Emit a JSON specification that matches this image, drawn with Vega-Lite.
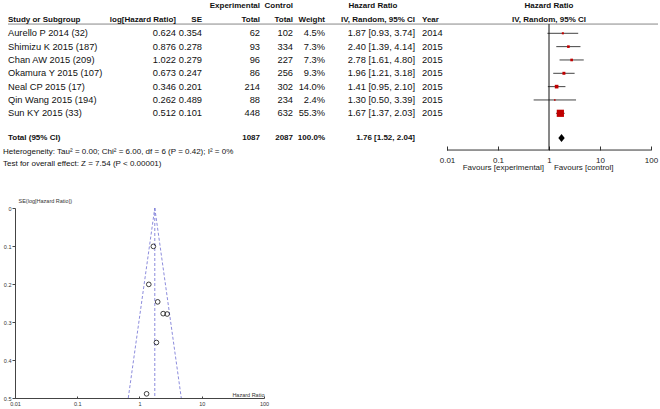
{
  "$schema": "https://vega.github.io/schema/vega-lite/v6.json",
  "padding": 0,
  "spacing": 25,
  "align": "none",
  "background": "white",
  "config": {
    "view": {"stroke": null},
    "axis": {"grid": false, "labelFont": "Liberation Sans", "titleFont": "Liberation Sans"},
    "text": {"font": "Liberation Sans", "color": "#111"}
  },
  "datasets": {
    "studies": [
      {"study": "Aurello P 2014 (32)", "row": 1, "loghr": 0.624, "se": 0.354, "exp": 62, "ctrl": 102, "weight": 4.5, "weightLabel": "4.5%", "hr": 1.87, "lo": 0.93, "hi": 3.74, "hrLabel": "1.87 [0.93, 3.74]", "year": "2014"},
      {"study": "Shimizu K 2015 (187)", "row": 2, "loghr": 0.876, "se": 0.278, "exp": 93, "ctrl": 334, "weight": 7.3, "weightLabel": "7.3%", "hr": 2.40, "lo": 1.39, "hi": 4.14, "hrLabel": "2.40 [1.39, 4.14]", "year": "2015"},
      {"study": "Chan AW 2015 (209)", "row": 3, "loghr": 1.022, "se": 0.279, "exp": 96, "ctrl": 227, "weight": 7.3, "weightLabel": "7.3%", "hr": 2.78, "lo": 1.61, "hi": 4.80, "hrLabel": "2.78 [1.61, 4.80]", "year": "2015"},
      {"study": "Okamura Y 2015 (107)", "row": 4, "loghr": 0.673, "se": 0.247, "exp": 86, "ctrl": 256, "weight": 9.3, "weightLabel": "9.3%", "hr": 1.96, "lo": 1.21, "hi": 3.18, "hrLabel": "1.96 [1.21, 3.18]", "year": "2015"},
      {"study": "Neal CP 2015 (17)", "row": 5, "loghr": 0.346, "se": 0.201, "exp": 214, "ctrl": 302, "weight": 14.0, "weightLabel": "14.0%", "hr": 1.41, "lo": 0.95, "hi": 2.10, "hrLabel": "1.41 [0.95, 2.10]", "year": "2015"},
      {"study": "Qin Wang 2015 (194)", "row": 6, "loghr": 0.262, "se": 0.489, "exp": 88, "ctrl": 234, "weight": 2.4, "weightLabel": "2.4%", "hr": 1.30, "lo": 0.50, "hi": 3.39, "hrLabel": "1.30 [0.50, 3.39]", "year": "2015"},
      {"study": "Sun KY 2015 (33)", "row": 7, "loghr": 0.512, "se": 0.101, "exp": 448, "ctrl": 632, "weight": 55.3, "weightLabel": "55.3%", "hr": 1.67, "lo": 1.37, "hi": 2.03, "hrLabel": "1.67 [1.37, 2.03]", "year": "2015"}
    ],
    "labels": [
      {"text": "Study or Subgroup", "row": 0, "col": 1, "style": "bl"},
      {"text": "Year", "row": 0, "col": 9, "style": "bl"},
      {"text": "Total (95% CI)", "row": 9, "col": 1, "style": "bl"},
      {"text": "log[Hazard Ratio]", "row": 0, "col": 2, "style": "br"},
      {"text": "SE", "row": 0, "col": 3, "style": "br"},
      {"text": "Experimental", "row": -1, "col": 4, "style": "br"},
      {"text": "Total", "row": 0, "col": 4, "style": "br"},
      {"text": "Control", "row": -1, "col": 5, "style": "br"},
      {"text": "Total", "row": 0, "col": 5, "style": "br"},
      {"text": "Weight", "row": 0, "col": 6, "style": "br"},
      {"text": "IV, Random, 95% CI", "row": 0, "col": 8, "style": "br"},
      {"text": "1087", "row": 9, "col": 4, "style": "br"},
      {"text": "2087", "row": 9, "col": 5, "style": "br"},
      {"text": "100.0%", "row": 9, "col": 6, "style": "br"},
      {"text": "1.76 [1.52, 2.04]", "row": 9, "col": 8, "style": "br"},
      {"text": "Hazard Ratio", "row": -1, "col": 7, "style": "bc"},
      {"text": "Heterogeneity: Tau² = 0.00; Chi² = 6.00, df = 6 (P = 0.42); I² = 0%", "row": 10, "col": 0, "style": "nl"},
      {"text": "Test for overall effect: Z = 7.54 (P < 0.00001)", "row": 11, "col": 0, "style": "nl"}
    ],
    "total": [{"hr": 1.76, "lo": 1.52, "hi": 2.04, "row": 9}],
    "forestHead": [
      {"text": "Hazard Ratio", "row": -1},
      {"text": "IV, Random, 95% CI", "row": 0}
    ],
    "funnel": [
      {"line": "lower", "hr": 1.76, "se": 0},
      {"line": "lower", "hr": 0.66, "se": 0.5},
      {"line": "center", "hr": 1.76, "se": 0},
      {"line": "center", "hr": 1.76, "se": 0.5},
      {"line": "upper", "hr": 1.76, "se": 0},
      {"line": "upper", "hr": 4.69, "se": 0.5}
    ]
  },
  "vconcat": [
    {
      "width": 645,
      "height": 150,
      "resolve": {"scale": {"x": "independent"}, "axis": {"x": "independent"}},
      "layer": [
        {
          "layer": [
            {
              "data": {"values": [{}]},
              "mark": {"type": "rule", "color": "#888", "strokeWidth": 1},
              "encoding": {
                "x": {"datum": 1, "type": "quantitative", "axis": null,
                  "scale": {"domain": [0, 1, 2, 3, 4, 5, 6, 7, 8, 9, 11], "range": [-12, -7, 161, 187, 245, 278, 310, 358, 400, 407, 643], "zero": false, "nice": false}},
                "x2": {"datum": 11},
                "y": {"datum": 0.33, "type": "quantitative", "axis": null,
                  "scale": {"domain": [-1, 0, 1, 7, 9, 10, 11], "range": [6, 19.5, 33.3, 113.3, 138, 152, 164], "zero": false, "nice": false}}
              }
            },
            {
              "data": {"name": "studies"},
              "mark": {"type": "text", "align": "left", "fontSize": 9.3},
              "encoding": {
                "x": {"datum": 1, "type": "quantitative", "axis": null},
                "y": {"field": "row", "type": "quantitative", "axis": null},
                "text": {"field": "study"}
              }
            },
            {
              "data": {"name": "studies"},
              "mark": {"type": "text", "align": "right", "fontSize": 9.3},
              "encoding": {
                "x": {"datum": 2, "type": "quantitative", "axis": null},
                "y": {"field": "row", "type": "quantitative", "axis": null},
                "text": {"field": "loghr", "format": ".3f"}
              }
            },
            {
              "data": {"name": "studies"},
              "mark": {"type": "text", "align": "right", "fontSize": 9.3},
              "encoding": {
                "x": {"datum": 3, "type": "quantitative", "axis": null},
                "y": {"field": "row", "type": "quantitative", "axis": null},
                "text": {"field": "se", "format": ".3f"}
              }
            },
            {
              "data": {"name": "studies"},
              "mark": {"type": "text", "align": "right", "fontSize": 9.3},
              "encoding": {
                "x": {"datum": 4, "type": "quantitative", "axis": null},
                "y": {"field": "row", "type": "quantitative", "axis": null},
                "text": {"field": "exp"}
              }
            },
            {
              "data": {"name": "studies"},
              "mark": {"type": "text", "align": "right", "fontSize": 9.3},
              "encoding": {
                "x": {"datum": 5, "type": "quantitative", "axis": null},
                "y": {"field": "row", "type": "quantitative", "axis": null},
                "text": {"field": "ctrl"}
              }
            },
            {
              "data": {"name": "studies"},
              "mark": {"type": "text", "align": "right", "fontSize": 9.3},
              "encoding": {
                "x": {"datum": 6, "type": "quantitative", "axis": null},
                "y": {"field": "row", "type": "quantitative", "axis": null},
                "text": {"field": "weightLabel"}
              }
            },
            {
              "data": {"name": "studies"},
              "mark": {"type": "text", "align": "right", "fontSize": 9.3},
              "encoding": {
                "x": {"datum": 8, "type": "quantitative", "axis": null},
                "y": {"field": "row", "type": "quantitative", "axis": null},
                "text": {"field": "hrLabel"}
              }
            },
            {
              "data": {"name": "studies"},
              "mark": {"type": "text", "align": "left", "fontSize": 9.3},
              "encoding": {
                "x": {"datum": 9, "type": "quantitative", "axis": null},
                "y": {"field": "row", "type": "quantitative", "axis": null},
                "text": {"field": "year"}
              }
            },
            {
              "data": {"name": "labels"},
              "transform": [{"filter": "datum.style == 'bl'"}],
              "mark": {"type": "text", "align": "left", "fontSize": 8.0, "fontWeight": "bold"},
              "encoding": {
                "x": {"field": "col", "type": "quantitative", "axis": null},
                "y": {"field": "row", "type": "quantitative", "axis": null},
                "text": {"field": "text"}
              }
            },
            {
              "data": {"name": "labels"},
              "transform": [{"filter": "datum.style == 'br'"}],
              "mark": {"type": "text", "align": "right", "fontSize": 8.0, "fontWeight": "bold"},
              "encoding": {
                "x": {"field": "col", "type": "quantitative", "axis": null},
                "y": {"field": "row", "type": "quantitative", "axis": null},
                "text": {"field": "text"}
              }
            },
            {
              "data": {"name": "labels"},
              "transform": [{"filter": "datum.style == 'bc'"}],
              "mark": {"type": "text", "align": "center", "fontSize": 8.0, "fontWeight": "bold"},
              "encoding": {
                "x": {"field": "col", "type": "quantitative", "axis": null},
                "y": {"field": "row", "type": "quantitative", "axis": null},
                "text": {"field": "text"}
              }
            },
            {
              "data": {"name": "labels"},
              "transform": [{"filter": "datum.style == 'nl'"}],
              "mark": {"type": "text", "align": "left", "fontSize": 8},
              "encoding": {
                "x": {"field": "col", "type": "quantitative", "axis": null},
                "y": {"field": "row", "type": "quantitative", "axis": null},
                "text": {"field": "text"}
              }
            }
          ]
        },
        {
          "layer": [
            {
              "data": {"name": "studies"},
              "mark": {"type": "rule", "color": "#444", "strokeWidth": 1},
              "encoding": {
                "x": {"field": "lo", "type": "quantitative",
                  "scale": {"type": "log", "domain": [0.01, 100], "range": [432, 636], "nice": false},
                  "axis": {"values": [0.01, 0.1, 1, 10, 100], "format": "~g", "title": null, "labelFontSize": 8, "labelColor": "#222", "tickSize": -4, "tickColor": "#333", "domain": false, "labelPadding": 10, "labelFlush": false, "labelOverlap": false}},
                "x2": {"field": "hi"},
                "y": {"field": "row", "type": "quantitative", "axis": null}
              }
            },
            {
              "data": {"values": [{}]},
              "mark": {"type": "rule", "color": "#333", "strokeWidth": 1},
              "encoding": {
                "x": {"datum": 0.01, "type": "quantitative"},
                "x2": {"datum": 100},
                "y": {"datum": 9.86, "type": "quantitative", "axis": null}
              }
            },
            {
              "data": {"values": [{}]},
              "mark": {"type": "rule", "color": "#111", "strokeWidth": 1},
              "encoding": {
                "x": {"datum": 1, "type": "quantitative"},
                "y": {"datum": 0.33, "type": "quantitative", "axis": null},
                "y2": {"datum": 9.86}
              }
            },
            {
              "data": {"name": "studies"},
              "mark": {"type": "point", "shape": "square", "filled": true, "color": "#c00000", "opacity": 1},
              "encoding": {
                "x": {"field": "hr", "type": "quantitative"},
                "y": {"field": "row", "type": "quantitative", "axis": null},
                "size": {"field": "weight", "type": "quantitative", "legend": null, "scale": {"domain": [0, 55.3], "range": [0, 52], "zero": true}}
              }
            },
            {
              "data": {"name": "total"},
              "mark": {"type": "point", "shape": "M0,-1L0.8,0L0,1L-0.8,0Z", "filled": true, "color": "#000", "opacity": 1, "size": 64},
              "encoding": {
                "x": {"field": "hr", "type": "quantitative"},
                "y": {"field": "row", "type": "quantitative", "axis": null}
              }
            },
            {
              "data": {"name": "forestHead"},
              "mark": {"type": "text", "align": "center", "fontSize": 8.0, "fontWeight": "bold"},
              "encoding": {
                "x": {"datum": 1, "type": "quantitative"},
                "y": {"field": "row", "type": "quantitative", "axis": null},
                "text": {"field": "text"}
              }
            },
            {
              "data": {"values": [{"text": "Favours [experimental]"}]},
              "mark": {"type": "text", "align": "right", "fontSize": 8, "color": "#222"},
              "encoding": {
                "x": {"datum": 0.8, "type": "quantitative"},
                "y": {"datum": 11.35, "type": "quantitative", "axis": null},
                "text": {"field": "text"}
              }
            },
            {
              "data": {"values": [{"text": "Favours [control]"}]},
              "mark": {"type": "text", "align": "left", "fontSize": 8, "color": "#222"},
              "encoding": {
                "x": {"datum": 1.25, "type": "quantitative"},
                "y": {"datum": 11.35, "type": "quantitative", "axis": null},
                "text": {"field": "text"}
              }
            }
          ]
        }
      ]
    },
    {
      "width": 249,
      "height": 190,
      "encoding": {
        "x": {"field": "hr", "type": "quantitative",
          "scale": {"type": "log", "domain": [0.01, 100], "nice": false},
          "axis": {"values": [0.01, 0.1, 1, 10, 100], "format": "~g", "labelFontSize": 5.5, "labelColor": "#333", "tickSize": -2, "labelPadding": 5, "domainColor": "#444", "tickColor": "#444", "labelFlush": false, "labelOverlap": false,
            "title": "Hazard Ratio", "titleFontSize": 5.5, "titleFontWeight": "normal", "titleColor": "#333", "titleX": 249, "titleY": -4, "titleAlign": "right", "titleBaseline": "middle", "titleAnchor": null}},
        "y": {"field": "se", "type": "quantitative",
          "scale": {"domain": [0, 0.5], "reverse": true, "nice": false, "zero": false},
          "axis": {"values": [0, 0.1, 0.2, 0.3, 0.4, 0.5], "format": "~g", "labelFontSize": 5.5, "labelColor": "#333", "tickSize": 3, "labelPadding": 1, "domainColor": "#444", "tickColor": "#444", "labelFlush": false, "labelOverlap": false, "labelSeparation": 0, "labelBound": false, "minExtent": 15, "maxExtent": 15,
            "title": "SE(log[Hazard Ratio])", "titleFontSize": 5.5, "titleFontWeight": "normal", "titleColor": "#333", "titleAngle": 0, "titleX": 3, "titleY": -8, "titleAlign": "left", "titleBaseline": "middle", "titleAnchor": null}}
      },
      "layer": [
        {
          "data": {"name": "funnel"},
          "mark": {"type": "line", "strokeDash": [3, 2], "color": "#7f7fd8", "strokeWidth": 0.9},
          "encoding": {
            "detail": {"field": "line"}
          }
        },
        {
          "data": {"name": "studies"},
          "mark": {"type": "point", "shape": "circle", "filled": false, "color": "#111", "strokeWidth": 0.8, "size": 22, "opacity": 1}
        }
      ]
    }
  ]
}
